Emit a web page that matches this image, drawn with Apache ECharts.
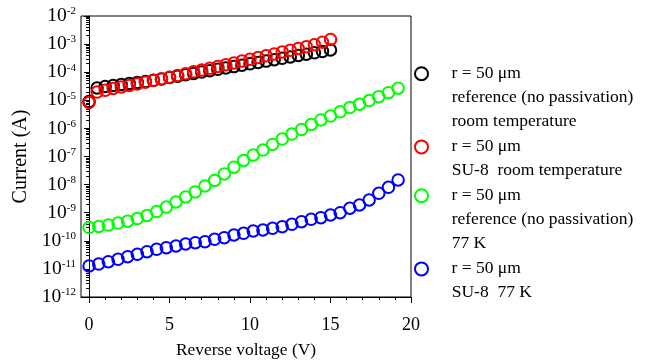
<!DOCTYPE html>
<html lang="en">
<head>
<meta charset="UTF-8">
<title>Current vs reverse voltage</title>
<script src="https://cdn.jsdelivr.net/npm/echarts@6/dist/echarts.min.js"></script>
<style>
    html, body { margin: 0; padding: 0; background: #fff; }
    #chart { width: 656px; height: 361px; }
</style>
</head>
<body>
<div id="chart"></div>
<script>
    // voltage steps (V)
    const voltsRT = [0, 0.5, 1, 1.5, 2, 2.5, 3, 3.5, 4, 4.5, 5, 5.5, 6, 6.5, 7, 7.5, 8, 8.5, 9, 9.5,
        10, 10.5, 11, 11.5, 12, 12.5, 13, 13.5, 14, 14.5, 15];
    const volts77K = [0, 0.6, 1.2, 1.8, 2.4, 3, 3.6, 4.2, 4.8, 5.4, 6, 6.6, 7.2, 7.8, 8.4, 9, 9.6,
        10.2, 10.8, 11.4, 12, 12.6, 13.2, 13.8, 14.4, 15, 15.6, 16.2, 16.8, 17.4, 18, 18.6, 19.2];

    // currents (A)
    const refRT = [9.0e-6, 2.74e-5, 3.10e-5, 3.36e-5, 3.65e-5, 3.96e-5, 4.30e-5, 4.66e-5, 5.15e-5, 5.78e-5,
        6.48e-5, 7.21e-5, 8.07e-5, 9.05e-5, 1.01e-4, 1.13e-4, 1.27e-4, 1.42e-4, 1.58e-4, 1.77e-4,
        1.99e-4, 2.23e-4, 2.48e-4, 2.79e-4, 3.13e-4, 3.50e-4, 3.93e-4, 4.37e-4, 4.90e-4, 5.50e-4, 6.17e-4];
    const su8RT = [8.36e-6, 1.97e-5, 2.27e-5, 2.63e-5, 2.97e-5, 3.36e-5, 3.80e-5, 4.38e-5, 5.03e-5, 5.78e-5,
        6.64e-5, 7.63e-5, 8.85e-5, 1.03e-4, 1.19e-4, 1.38e-4, 1.60e-4, 1.85e-4, 2.14e-4, 2.48e-4,
        2.88e-4, 3.33e-4, 3.86e-4, 4.48e-4, 5.19e-4, 6.01e-4, 6.97e-4, 8.07e-4, 9.52e-4, 1.17e-3, 1.46e-3];
    const ref77K = [2.95e-10, 3.24e-10, 3.63e-10, 4.27e-10, 5.01e-10, 6.17e-10, 7.94e-10, 1.10e-9, 1.58e-9, 2.40e-9,
        3.63e-9, 5.50e-9, 8.91e-9, 1.41e-8, 2.40e-8, 4.17e-8, 7.24e-8, 1.12e-7, 1.70e-7, 2.69e-7,
        4.17e-7, 6.31e-7, 9.12e-7, 1.38e-6, 2.00e-6, 2.75e-6, 3.89e-6, 5.50e-6, 7.24e-6, 9.77e-6,
        1.35e-5, 1.86e-5, 2.69e-5];
    const su877K = [1.27e-11, 1.49e-11, 1.80e-11, 2.20e-11, 2.72e-11, 3.31e-11, 4.09e-11, 4.99e-11, 5.68e-11, 6.53e-11,
        7.69e-11, 8.55e-11, 9.29e-11, 1.13e-10, 1.29e-10, 1.61e-10, 1.85e-10, 2.23e-10, 2.42e-10, 2.79e-10,
        3.18e-10, 3.86e-10, 4.79e-10, 5.82e-10, 6.64e-10, 8.28e-10, 1.00e-9, 1.44e-9, 1.88e-9, 2.83e-9,
        4.90e-9, 8.02e-9, 1.46e-8];

    // tick labels
    const xMajor = [0, 5, 10, 15, 20];
    const xMinor = [0, 1, 2, 3, 4, 5, 6, 7, 8, 9, 10, 11, 12, 13, 14, 15, 16, 17, 18, 19, 20];
    const yDecades = [1e-12, 1e-11, 1e-10, 1e-9, 1e-8, 1e-7, 1e-6, 1e-5, 1e-4, 1e-3, 1e-2];

    // legend text, one array of lines per series
    const legendLines = [
        ['r = 50 μm', 'reference (no passivation)', 'room temperature'],
        ['r = 50 μm', 'SU-8  room temperature'],
        ['r = 50 μm', 'reference (no passivation)', '77 K'],
        ['r = 50 μm', 'SU-8  77 K']
    ];
    const colors = ['#000000', '#ff0000', '#00ff00', '#0000ff'];

    const yMinor = [];
    yDecades.slice(0, -1).forEach(d => {
        for (let k = 2; k <= 9; k++) yMinor.push(k * d);
    });

    const FONT = 'Liberation Serif';
    const LH = 24.4;          // legend line pitch
    const LEG_Y0 = 72.7;      // centre of first legend line
    const LEG_LEFT = 414;     // legend box left (icon sits at +25)
    const LEG_TEXT_X = 451.7;

    const names = legendLines.map(l => l.join(' / '));
    const pair = (xs, ys) => xs.map((x, i) => [x, ys[i]]);
    const seriesData = [pair(voltsRT, refRT), pair(voltsRT, su8RT), pair(volts77K, ref77K), pair(volts77K, su877K)];

    // legend rows: one legend per series, extra lines as plain text
    const legends = [];
    const extraText = [];
    let row = 0;
    legendLines.forEach((lines, i) => {
        const cy = LEG_Y0 + row * LH;
        legends.push({
            orient: 'vertical',
            left: LEG_LEFT,
            top: cy - 8,
            padding: 0,
            itemWidth: 50,
            itemHeight: 13,
            icon: 'circle',
            selectedMode: false,
            formatter: () => lines[0],
            textStyle: { fontFamily: FONT, fontSize: 17.5, color: '#000' },
            data: [names[i]]
        });
        lines.slice(1).forEach((t, j) => {
            extraText.push({
                type: 'text',
                left: LEG_TEXT_X,
                top: cy + (j + 1) * LH - 9,
                style: { text: t, font: '17.5px "' + FONT + '"', fill: '#000' }
            });
        });
        row += lines.length;
    });

    const chart = echarts.init(document.getElementById('chart'));

    const gridBox = { left: 81, right: 245, top: 16, bottom: 64, outerBoundsMode: 'none', containLabel: false };

    chart.setOption({
        animation: false,
        textStyle: { fontFamily: FONT, color: '#000' },
        grid: [
            Object.assign({ show: true, borderColor: '#000', borderWidth: 1 }, gridBox),
            Object.assign({ show: false }, gridBox)
        ],
        legend: legends,
        graphic: extraText,
        xAxis: [
            {
                type: 'value', gridIndex: 0, min: -0.5, max: 20,
                axisLine: { show: true, lineStyle: { color: '#000', width: 1 } },
                axisTick: { show: true, customValues: xMajor, length: 6, lineStyle: { color: '#000' } },
                axisLabel: { customValues: xMajor, fontFamily: FONT, fontSize: 18, color: '#000', margin: 19 },
                splitLine: { show: false },
                name: 'Reverse voltage (V)', nameLocation: 'middle', nameGap: 45,
                nameTextStyle: { fontFamily: FONT, fontSize: 17.4, color: '#000' }
            },
            {
                type: 'value', gridIndex: 1, min: -0.5, max: 20,
                axisLine: { show: false },
                axisTick: { show: true, customValues: xMinor, length: 3, lineStyle: { color: '#000' } },
                axisLabel: { show: false },
                splitLine: { show: false }
            }
        ],
        yAxis: [
            {
                type: 'log', logBase: 10, gridIndex: 0, min: 1e-12, max: 1e-2,
                axisLine: { show: true, lineStyle: { color: '#000', width: 1 } },
                axisTick: { show: true, customValues: yDecades, length: 5, lineStyle: { color: '#000' } },
                axisLabel: {
                    customValues: yDecades, margin: 5,
                    formatter: v => '{b|10}{s|' + Math.round(Math.log10(v)) + '}',
                    rich: {
                        b: { fontFamily: FONT, fontSize: 19.5, color: '#000' },
                        s: { fontFamily: FONT, fontSize: 11, color: '#000', verticalAlign: 'top' }
                    }
                },
                splitLine: { show: false },
                name: 'Current (A)', nameLocation: 'middle', nameGap: 40,
                nameTextStyle: { fontFamily: FONT, fontSize: 20, color: '#000' }
            },
            {
                type: 'log', logBase: 10, gridIndex: 1, min: 1e-12, max: 1e-2,
                axisLine: { show: false },
                axisTick: { show: true, customValues: yMinor, length: 3, lineStyle: { color: '#000' } },
                axisLabel: { show: false },
                splitLine: { show: false }
            }
        ],
        series: seriesData.map((d, i) => ({
            name: names[i],
            type: 'scatter',
            xAxisIndex: 0,
            yAxisIndex: 0,
            symbol: 'circle',
            symbolSize: 11.5,
            itemStyle: { color: 'rgba(255,255,255,0)', borderColor: colors[i], borderWidth: 2, opacity: 1 },
            emphasis: { disabled: true },
            data: d
        }))
    });
</script>
</body>
</html>
